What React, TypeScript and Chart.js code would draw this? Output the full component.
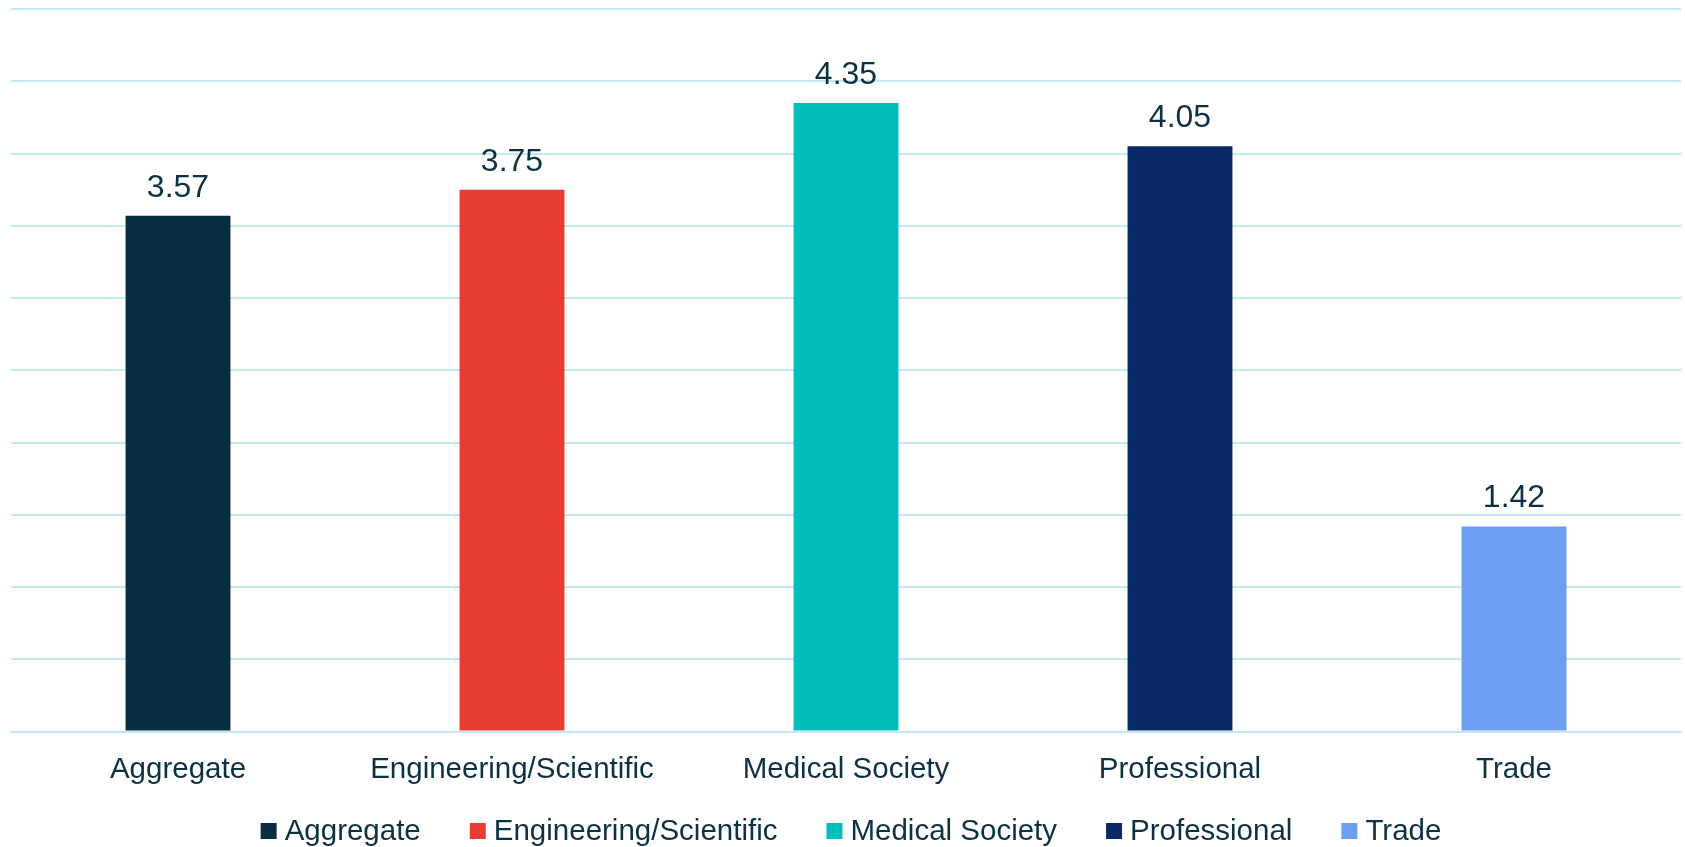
import React, { useEffect, useRef } from "react";
import { Chart, registerables } from "chart.js";

Chart.register(...registerables);

const categories = ["Aggregate", "Engineering/Scientific", "Medical Society", "Professional", "Trade"];
const values = [3.57, 3.75, 4.35, 4.05, 1.42];
const colors = ["#082F41", "#E83D32", "#00BFB9", "#0A2A66", "#6D9EF0"];
const yMax = 5;
const yStep = 0.5;

const TEXT = "#0B3142";
const FONT = "'Liberation Sans', Arial, sans-serif";

const valueLabels = {
  id: "valueLabels",
  afterDatasetsDraw(chart: any) {
    const ctx = chart.ctx;
    const meta = chart.getDatasetMeta(0);
    ctx.save();
    ctx.font = `32px ${FONT}`;
    ctx.fillStyle = TEXT;
    ctx.textAlign = "center";
    ctx.textBaseline = "alphabetic";
    meta.data.forEach((bar: any, i: number) => {
      ctx.fillText(values[i].toFixed(2), bar.x, bar.y - 19);
    });
    ctx.restore();
  },
};

const customLegend = {
  id: "customLegend",
  afterDraw(chart: any) {
    const ctx = chart.ctx;
    ctx.save();
    ctx.font = `29.5px ${FONT}`;
    ctx.textBaseline = "middle";
    ctx.textAlign = "left";
    const box = 16;
    const gapText = 8;
    const gapItem = 49;
    const widths = categories.map((c) => ctx.measureText(c).width);
    const total = widths.reduce((a, w) => a + box + gapText + w, 0) + gapItem * (categories.length - 1);
    let x = 851 - total / 2;
    const y = 831;
    categories.forEach((c, i) => {
      ctx.fillStyle = colors[i];
      ctx.fillRect(x, y - box / 2, box, box);
      x += box + gapText;
      ctx.fillStyle = TEXT;
      ctx.fillText(c, x, y + 1);
      x += widths[i] + gapItem;
    });
    ctx.restore();
  },
};

export default function App() {
  const ref = useRef<HTMLCanvasElement | null>(null);
  useEffect(() => {
    document.body.style.margin = "0";
    const chart = new Chart(ref.current as HTMLCanvasElement, {
      type: "bar",
      data: {
        labels: categories,
        datasets: [
          {
            data: values,
            backgroundColor: colors,
            barPercentage: 0.314,
            categoryPercentage: 1,
          },
        ],
      },
      options: {
        animation: false,
        responsive: false,
        layout: { padding: { left: 11, right: 4, top: 9, bottom: 38 } },
        plugins: { legend: { display: false }, tooltip: { enabled: false } },
        scales: {
          x: {
            grid: { display: false, drawTicks: false },
            border: { display: true, color: "#C3E8F6", width: 2 },
            ticks: { color: TEXT, font: { family: FONT, size: 29.5 }, padding: 21 },
          },
          y: {
            min: 0,
            max: yMax,
            ticks: { display: false, stepSize: yStep },
            grid: { color: "#C3E8F6", lineWidth: 2, drawTicks: false },
            border: { display: false },
          },
        },
      },
      plugins: [valueLabels, customLegend],
    });
    return () => chart.destroy();
  }, []);
  return (
    <div style={{ width: 1685, height: 847, background: "#fff" }}>
      <canvas ref={ref} width={1685} height={847} style={{ display: "block" }} />
    </div>
  );
}
